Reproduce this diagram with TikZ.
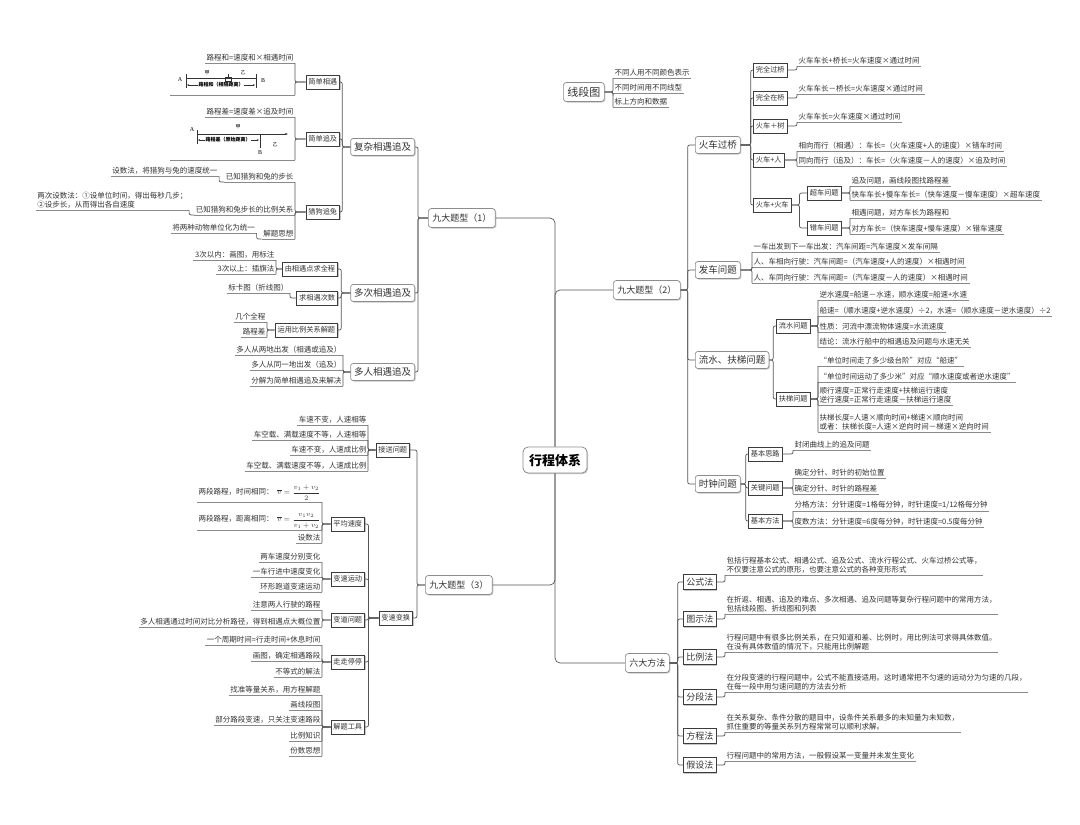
\documentclass[tikz,border=0pt]{standalone}
\usepackage{fontspec}
\setmainfont{Noto Sans CJK SC}
\newfontfamily\serifA{Liberation Serif}
\usetikzlibrary{shadows,arrows.meta}
\definecolor{txt}{HTML}{333333}
\definecolor{ln}{HTML}{555555}
\definecolor{ul}{HTML}{8A8A8A}
\definecolor{bd}{HTML}{3C3C3C}
\definecolor{bdl}{HTML}{8C8C8C}
\tikzset{
 conn/.style={draw=ln, line width=0.7pt, rounded corners=2pt},
 uline/.style={draw=ul, line width=0.7pt},
 leaf/.style={font=\fontsize{7.5}{9}\selectfont, text=txt, inner xsep=1.5pt, inner ysep=1.6pt, align=left},
 shd/.style={general shadow={fill=black!22, shadow xshift=1pt, shadow yshift=-1pt}},
 ctrbox/.style={shd, draw=bdl, fill=white, rounded corners=5pt, line width=0.8pt, font=\bfseries\fontsize{13}{15}\selectfont, text=black, minimum width=64pt, minimum height=26pt},
 bxa/.style={shd, draw=bdl, fill=white, rounded corners=3pt, line width=0.7pt, font=\fontsize{9}{11}\selectfont, text=txt, inner xsep=4pt, minimum height=19pt},
 bxb/.style={shd, draw=bdl, fill=white, rounded corners=2.5pt, line width=0.7pt, font=\fontsize{9.5}{11}\selectfont, text=txt, inner xsep=3.5pt, minimum height=17pt},
 bxc/.style={shd, draw=bd, fill=white, line width=0.7pt, font=\fontsize{7.2}{8}\selectfont, text=txt, inner xsep=2.5pt, minimum height=14pt},
 bxd/.style={shd, draw=bd, fill=white, line width=0.7pt, font=\fontsize{9}{10}\selectfont, text=txt, inner xsep=3pt, minimum height=15.5pt},
 dg/.style={line width=0.5pt, draw=black!80},
 dgt/.style={font=\fontsize{5}{6}\selectfont, inner sep=0.5pt, text=black},
 dgs/.style={font=\serifA\fontsize{6}{6}\selectfont, inner sep=0.5pt, text=black},
}
\newcommand\lfR[4]{\node[leaf,anchor=south west] (#1) at (#2,#3) {#4};\draw[uline] (#1.south west) -- (#1.south east);}
\newcommand\lfL[4]{\node[leaf,anchor=south east] (#1) at (#2,#3) {#4};\draw[uline] (#1.south west) -- (#1.south east);}
\newcommand\lnkR[2]{\draw[conn] (#1.east) -- (#1.east -| #2.south west) -- (#2.south west);}
\newcommand\lnkL[2]{\draw[conn] (#1.west) -- (#1.west -| #2.south east) -- (#2.south east);}
\newcommand\bxR[3]{\draw[conn] (#1.east) -- ++(#3,0) |- (#2.west);}
\newcommand\bxL[3]{\draw[conn] (#1.west) -- ++(-#3,0) |- (#2.east);}
\begin{document}
\begin{tikzpicture}[x=1pt,y=-1pt]
\fill[white] (0,0) rectangle (1080,825);
\useasboundingbox (0,0) rectangle (1080,825);

% ---------------- centre and main branches
\node[ctrbox] (ctr) at (555,460) {行程体系};
\node[bxa,anchor=west] (t1) at (428,218) {九大题型（1）};
\node[bxa,anchor=west] (t2) at (613,290) {九大题型（2）};
\node[bxa,anchor=west] (t3) at (425,585) {九大题型（3）};
\node[bxa,anchor=west] (six) at (625,663) {六大方法};
\node[bxa,anchor=west,font=\fontsize{11}{12}\selectfont] (xdt) at (563,92) {线段图};
\draw[conn,rounded corners=5pt] (ctr.north) |- (t1.east);
\draw[conn,rounded corners=5pt] (ctr.north) |- (t2.west);
\draw[conn,rounded corners=5pt] (ctr.south) |- (t3.east);
\draw[conn,rounded corners=5pt] (ctr.south) |- (six.west);

% ---------------- 线段图
\lfR{xd1}{613}{78}{不同人用不同颜色表示}
\lfR{xd2}{613}{93}{不同时间用不同线型}
\lfR{xd3}{613}{107}{标上方向和数据}
\lnkR{xdt}{xd1}\lnkR{xdt}{xd2}\lnkR{xdt}{xd3}

% ---------------- 九大题型（2）
\node[bxb,anchor=west] (hc) at (695,145) {火车过桥};
\node[bxb,anchor=west] (fc) at (695,270) {发车问题};
\node[bxb,anchor=west] (ls) at (695,360) {流水、扶梯问题};
\node[bxb,anchor=west] (sz) at (695,484) {时钟问题};
\foreach \n in {hc,fc,ls,sz}{\bxR{t2}{\n}{7}}

\node[bxc,anchor=west] (wq1) at (753,70) {完全过桥};
\node[bxc,anchor=west] (wq2) at (753,98) {完全在桥};
\node[bxc,anchor=west] (wq3) at (753,126) {火车＋树};
\node[bxc,anchor=west] (wq4) at (753,160) {火车+人};
\node[bxc,anchor=west] (wq5) at (753,205) {火车+火车};
\foreach \n in {wq1,wq2,wq3,wq4,wq5}{\bxR{hc}{\n}{10}}
\lfR{h1}{797}{66}{火车车长+桥长=火车速度×通过时间}
\lfR{h2}{797}{94}{火车车长－桥长=火车速度×通过时间}
\lfR{h3}{797}{122}{火车车长=火车速度×通过时间}
\lfR{h4}{797}{151}{相向而行（相遇）：车长=（火车速度+人的速度）×错车时间}
\lfR{h5}{797}{166}{同向而行（追及）：车长=（火车速度－人的速度）×追及时间}
\lnkR{wq1}{h1}\lnkR{wq2}{h2}\lnkR{wq3}{h3}\lnkR{wq4}{h4}\lnkR{wq4}{h5}

\node[bxc,anchor=west] (cc1) at (807,193) {超车问题};
\node[bxc,anchor=west] (cc2) at (807,228) {错车问题};
\bxR{wq5}{cc1}{8}\bxR{wq5}{cc2}{8}
\lfR{c1}{850}{186}{追及问题，画线段图找路程差}
\lfR{c2}{850}{200}{快车车长+慢车车长=（快车速度－慢车速度）×超车速度}
\lfR{c3}{850}{218}{相遇问题，对方车长为路程和}
\lfR{c4}{850}{234}{对方车长=（快车速度+慢车速度）×错车速度}
\lnkR{cc1}{c1}\lnkR{cc1}{c2}\lnkR{cc2}{c3}\lnkR{cc2}{c4}

\lfR{f1}{752}{252}{一车出发到下一车出发：汽车间距=汽车速度×发车间隔}
\lfR{f2}{752}{267}{人、车相向行驶：汽车间距=（汽车速度+人的速度）×相遇时间}
\lfR{f3}{752}{283}{人、车同向行驶：汽车间距=（汽车速度－人的速度）×相遇时间}
\lnkR{fc}{f1}\lnkR{fc}{f2}\lnkR{fc}{f3}

\node[bxc,anchor=west] (lsw) at (776,326) {流水问题};
\node[bxc,anchor=west] (ftw) at (776,399) {扶梯问题};
\bxR{ls}{lsw}{4}\bxR{ls}{ftw}{4}
\lfR{l1}{818}{300}{逆水速度=船速－水速，顺水速度=船速+水速}
\lfR{l2}{818}{316}{船速=（顺水速度+逆水速度）÷2，水速=（顺水速度－逆水速度）÷2}
\lfR{l3}{818}{332}{性质：河流中漂流物体速度=水流速度}
\lfR{l4}{818}{347}{结论：流水行船中的相遇追及问题与水速无关}
\lnkR{lsw}{l1}\lnkR{lsw}{l2}\lnkR{lsw}{l3}\lnkR{lsw}{l4}
\lfR{e1}{818}{366}{“单位时间走了多少级台阶”对应“船速”}
\lfR{e2}{818}{382}{“单位时间运动了多少米”对应“顺水速度或者逆水速度”}
\lfR{e3}{818}{405}{顺行速度=正常行走速度+扶梯运行速度\\逆行速度=正常行走速度－扶梯运行速度}
\lfR{e4}{818}{432}{扶梯长度=人速×顺向时间+梯速×顺向时间\\或者：扶梯长度=人速×逆向时间－梯速×逆向时间}
\lnkR{ftw}{e1}\lnkR{ftw}{e2}\lnkR{ftw}{e3}\lnkR{ftw}{e4}

\node[bxc,anchor=west] (s1) at (748,454) {基本思路};
\node[bxc,anchor=west] (s2) at (748,488) {关键问题};
\node[bxc,anchor=west] (s3) at (748,521) {基本方法};
\foreach \n in {s1,s2,s3}{\bxR{sz}{\n}{5}}
\lfR{s1a}{793}{450}{封闭曲线上的追及问题}
\lfR{s2a}{793}{478}{确定分针、时针的初始位置}
\lfR{s2b}{793}{494}{确定分针、时针的路程差}
\lfR{s3a}{793}{511}{分格方法：分针速度=1格每分钟，时针速度=1/12格每分钟}
\lfR{s3b}{793}{527}{度数方法：分针速度=6度每分钟，时针速度=0.5度每分钟}
\lnkR{s1}{s1a}\lnkR{s2}{s2a}\lnkR{s2}{s2b}\lnkR{s3}{s3a}\lnkR{s3}{s3b}

% ---------------- 六大方法
\node[bxd,anchor=west] (m1) at (683,582) {公式法};
\node[bxd,anchor=west] (m2) at (683,619) {图示法};
\node[bxd,anchor=west] (m3) at (683,657) {比例法};
\node[bxd,anchor=west] (m4) at (683,697) {分段法};
\node[bxd,anchor=west] (m5) at (683,736) {方程法};
\node[bxd,anchor=west] (m6) at (683,765) {假设法};
\foreach \n in {m1,m2,m3,m4,m5,m6}{\bxR{six}{\n}{8}}
\lfR{m1a}{725}{575}{包括行程基本公式、相遇公式、追及公式、流水行程公式、火车过桥公式等，\\不仅要注意公式的原形，也要注意公式的各种变形形式}
\lfR{m2a}{725}{614}{在折返、相遇、追及的难点、多次相遇、追及问题等复杂行程问题中的常用方法，\\包括线段图、折线图和列表}
\lfR{m3a}{725}{652}{行程问题中有很多比例关系，在只知道和差、比例时，用比例法可求得具体数值。\\在没有具体数值的情况下，只能用比例解题}
\lfR{m4a}{725}{692}{在分段变速的行程问题中，公式不能直接适用。这时通常把不匀速的运动分为匀速的几段，\\在每一段中用匀速问题的方法去分析}
\lfR{m5a}{725}{732}{在关系复杂、条件分散的题目中，设条件关系最多的未知量为未知数，\\抓住重要的等量关系列方程常常可以顺利求解。}
\lfR{m6a}{725}{761}{行程问题中的常用方法，一般假设某一变量并未发生变化}
\lnkR{m1}{m1a}\lnkR{m2}{m2a}\lnkR{m3}{m3a}\lnkR{m4}{m4a}\lnkR{m5}{m5a}\lnkR{m6}{m6a}

% ---------------- 九大题型（1）
\node[bxb,anchor=east] (fz) at (415,147) {复杂相遇追及};
\node[bxb,anchor=east] (dc) at (415,293) {多次相遇追及};
\node[bxb,anchor=east] (dr) at (415,372) {多人相遇追及};
\foreach \n in {fz,dc,dr}{\bxL{t1}{\n}{10}}

\node[bxc,anchor=east] (jx) at (340,82) {简单相遇};
\node[bxc,anchor=east] (jz) at (340,139) {简单追及};
\node[bxc,anchor=east] (lg) at (340,212) {猎狗追兔};
\foreach \n in {jx,jz,lg}{\bxL{fz}{\n}{8}}

\lfL{jx1}{295}{63}{路程和=速度和×相遇时间}
\coordinate (im1) at (295,95);
\draw[uline] (170,95) -- (im1);
\lnkL{jx}{jx1}
\draw[conn] (jx.west) -- (jx.west -| im1) -- (im1);
% diagram 1
\node[dgs] (dA1) at (180,80) {A};
\node[dgs] (dB1) at (263,81) {B};
\node[dgt] (dj1) at (207,73) {甲};
\node[dgt] (dy1) at (243,73) {乙};
\draw[dg] (186,74) -- (186,88);
\draw[dg] (256,74) -- (256,88);
\draw[dg] (228,74) -- (228,78);
\draw[dg] (186,78) -- (256,78);
\draw[dg] (225.5,77) rectangle (231,81.5);
\draw[dg,{Stealth[length=2pt,width=1.6pt]}-{Stealth[length=2pt,width=1.6pt]}] (187,85) -- (255,85);
\node[dgt,fill=white,font=\bfseries\fontsize{5}{6}\selectfont] (dl1) at (221,85) {路程和（相隔距离）};

\lfL{jz1}{295}{117}{路程差=速度差×追及时间}
\coordinate (im2) at (295,160);
\draw[uline] (170,160) -- (im2);
\lnkL{jz}{jz1}
\draw[conn] (jz.west) -- (jz.west -| im2) -- (im2);
% diagram 2
\node[dgs] (dA2) at (192,130) {A};
\node[dgs] (dB2) at (260,153) {B};
\node[dgt] (dj2) at (238,127) {甲};
\node[dgt] (dy2) at (275,145) {乙};
\draw[dg] (197,130) -- (197,144);
\draw[dg,-{Stealth[length=3pt,width=2pt]}] (197,134) -- (288,134);
\draw[dg] (260,134) -- (260,148);
\draw[dg,{Stealth[length=2pt,width=1.6pt]}-{Stealth[length=2pt,width=1.6pt]}] (198,140) -- (259,140);
\node[dgt,fill=white,font=\bfseries\fontsize{5}{6}\selectfont] (dl2) at (228,140) {路程差（原始距离）};

\lfL{lg1}{295}{182}{已知猎狗和兔的步长}
\lfL{lg2}{295}{215}{已知猎狗和兔步长的比例关系}
\lfL{lg3}{295}{239}{解题思想}
\lnkL{lg}{lg1}\lnkL{lg}{lg2}\lnkL{lg}{lg3}
\node[leaf,anchor=south east] (lg1a) at ([xshift=-5pt,yshift=6pt]lg1.south west) {设数法，将猎狗与兔的速度统一};
\node[leaf,anchor=south east] (lg2a) at ([xshift=-5pt,yshift=5pt]lg2.south west) {两次设数法：①设单位时间，得出每秒几步；\\②设步长，从而得出各自速度};
\node[leaf,anchor=south east] (lg3a) at ([xshift=-5pt,yshift=6pt]lg3.south west) {将两种动物单位化为统一};
\foreach \n in {lg1a,lg2a,lg3a}{\draw[uline] (\n.south west) -- (\n.south east);}
\draw[conn] (lg1.south west) -| (lg1a.south east);
\draw[conn] (lg2.south west) -| (lg2a.south east);
\draw[conn] (lg3.south west) -| (lg3a.south east);

\node[bxc,anchor=east] (d1) at (338,269) {由相遇点求全程};
\node[bxc,anchor=east] (d2) at (338,298) {求相遇次数};
\node[bxc,anchor=east] (d3) at (338,330) {运用比例关系解题};
\foreach \n in {d1,d2,d3}{\bxL{dc}{\n}{9}}
\lfL{d1a}{276}{260}{3次以内：画图，用标注}
\lfL{d1b}{276}{274}{3次以上：插旗法}
\lfL{d2a}{290}{293}{标卡图（折线图）}
\lfL{d3a}{267}{322}{几个全程}
\lfL{d3b}{267}{337}{路程差}
\lnkL{d1}{d1a}\lnkL{d1}{d1b}\lnkL{d2}{d2a}\lnkL{d3}{d3a}\lnkL{d3}{d3b}

\lfL{r1}{343}{355}{多人从两地出发（相遇或追及）}
\lfL{r2}{343}{370}{多人从同一地出发（追及）}
\lfL{r3}{343}{386}{分解为简单相遇追及来解决}
\lnkL{dr}{r1}\lnkL{dr}{r2}\lnkL{dr}{r3}

% ---------------- 九大题型（3）
\node[bxc,anchor=east] (js) at (410,450) {接送问题};
\node[bxc,anchor=east] (bs) at (413,618) {变速变换};
\bxL{t3}{js}{8}\bxL{t3}{bs}{8}
\lfL{j1}{368}{425}{车速不变，人速相等}
\lfL{j2}{368}{440}{车空载、满载速度不等，人速相等}
\lfL{j3}{368}{455}{车速不变，人速成比例}
\lfL{j4}{368}{471}{车空载、满载速度不等，人速成比例}
\lnkL{js}{j1}\lnkL{js}{j2}\lnkL{js}{j3}\lnkL{js}{j4}

\node[bxc,anchor=east] (v1) at (365,524) {平均速度};
\node[bxc,anchor=east] (v2) at (365,579) {变速运动};
\node[bxc,anchor=east] (v3) at (365,620) {变道问题};
\node[bxc,anchor=east] (v4) at (365,662) {走走停停};
\node[bxc,anchor=east] (v5) at (365,727) {解题工具};
\foreach \n in {v1,v2,v3,v4,v5}{\bxL{bs}{\n}{10}}
\lfL{v1a}{322}{502}{两段路程，时间相同：\enspace$\overline{v}={\displaystyle\frac{v_1+v_2}{2}}$}
\lfL{v1b}{322}{530}{两段路程，距离相同：\enspace$\overline{v}={\displaystyle\frac{v_1v_2}{v_1+v_2}}$}
\lfL{v1c}{322}{543}{设数法}
\lnkL{v1}{v1a}\lnkL{v1}{v1b}\lnkL{v1}{v1c}
\lfL{v2a}{322}{562}{两车速度分别变化}
\lfL{v2b}{322}{577}{一车行进中速度变化}
\lfL{v2c}{322}{592}{环形跑道变速运动}
\lnkL{v2}{v2a}\lnkL{v2}{v2b}\lnkL{v2}{v2c}
\lfL{v3a}{322}{610}{注意两人行驶的路程}
\lfL{v3b}{322}{627}{多人相遇通过时间对比分析路径，得到相遇点大概位置}
\lnkL{v3}{v3a}\lnkL{v3}{v3b}
\lfL{v4a}{322}{645}{一个周期时间=行走时间+休息时间}
\lfL{v4b}{322}{661}{画图，确定相遇路段}
\lfL{v4c}{322}{677}{不等式的解法}
\lnkL{v4}{v4a}\lnkL{v4}{v4b}\lnkL{v4}{v4c}
\lfL{v5a}{322}{695}{找准等量关系，用方程解题}
\lfL{v5b}{322}{710}{画线段图}
\lfL{v5c}{322}{725}{部分路段变速，只关注变速路段}
\lfL{v5d}{322}{741}{比例知识}
\lfL{v5e}{322}{756}{份数思想}
\lnkL{v5}{v5a}\lnkL{v5}{v5b}\lnkL{v5}{v5c}\lnkL{v5}{v5d}\lnkL{v5}{v5e}
\end{tikzpicture}
\end{document}
